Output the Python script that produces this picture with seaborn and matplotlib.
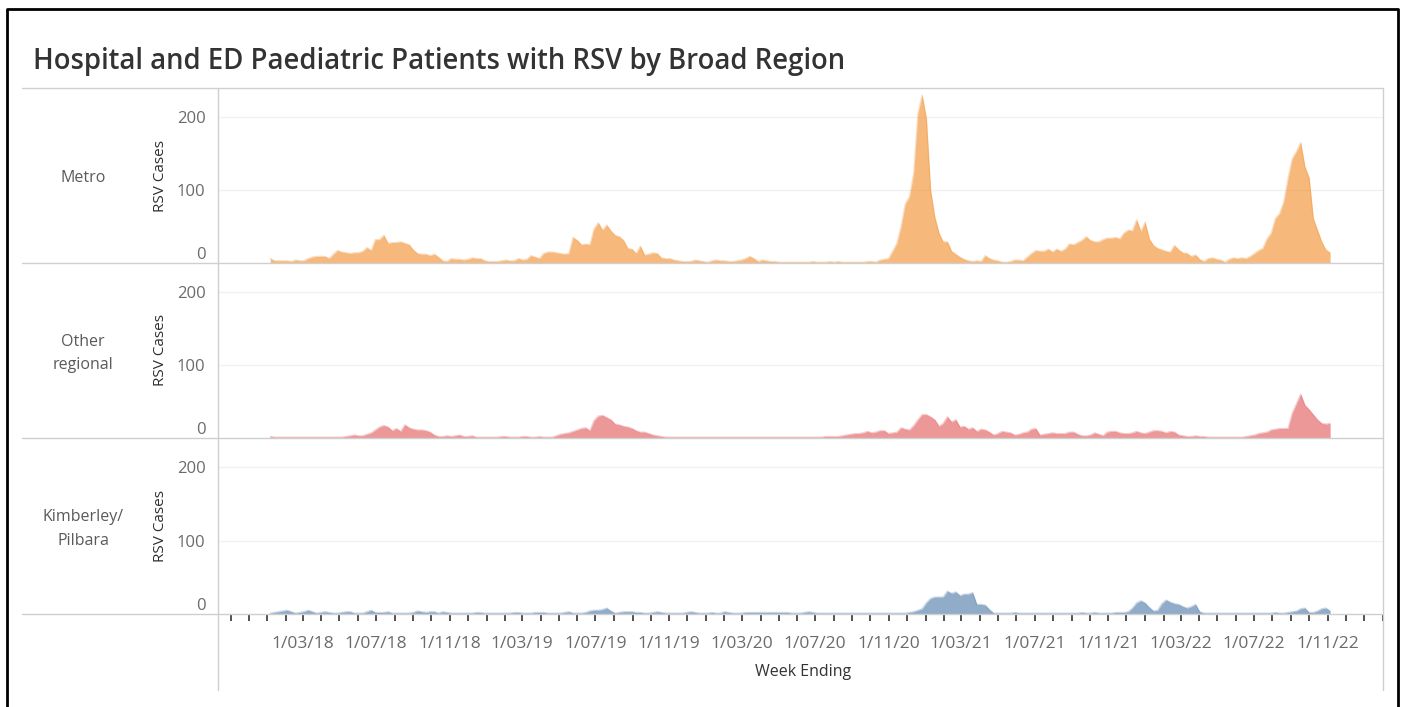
import numpy as np
import pandas as pd
import matplotlib
matplotlib.use("Agg")
import matplotlib.pyplot as plt
import matplotlib.dates as mdates
from matplotlib.lines import Line2D
import seaborn as sns

# weekly RSV cases, week ending Saturday, first week 6 Jan 2018
first_week = "2018-01-06"

metro = [
    6, 3, 3, 3, 3, 2, 4, 3, 3, 6, 8, 9, 9, 9, 6, 12, 17, 15, 14, 13,
    14, 14, 16, 21, 17, 32, 32, 38, 27, 28, 28, 29, 27, 25, 18, 13, 12, 12, 10, 12,
    8, 3, 2, 6, 5, 5, 4, 5, 7, 6, 6, 3, 2, 2, 2, 3, 4, 3, 3, 6,
    4, 5, 10, 8, 6, 13, 15, 15, 14, 13, 12, 13, 35, 31, 25, 26, 25, 47, 55, 45,
    52, 44, 38, 36, 31, 20, 19, 13, 23, 11, 12, 14, 13, 7, 6, 6, 4, 3, 2, 2,
    2, 4, 3, 2, 1, 3, 4, 3, 3, 2, 2, 3, 4, 6, 9, 6, 2, 4, 3, 2,
    2, 1, 1, 1, 1, 1, 1, 1, 1, 2, 1, 1, 1, 2, 1, 2, 1, 1, 1, 1,
    1, 1, 2, 2, 1, 4, 5, 6, 16, 27, 50, 81, 91, 123, 205, 230, 198, 100, 63, 41,
    29, 29, 16, 12, 8, 5, 3, 2, 3, 2, 10, 6, 4, 3, 1, 1, 2, 4, 4, 3,
    8, 13, 17, 16, 16, 19, 15, 19, 16, 19, 26, 25, 28, 31, 36, 31, 29, 29, 32, 34,
    34, 35, 33, 41, 45, 44, 59, 43, 56, 33, 24, 20, 18, 16, 15, 24, 18, 14, 13, 9,
    11, 5, 2, 6, 7, 5, 4, 1, 5, 7, 6, 7, 6, 9, 13, 17, 20, 33, 41, 61,
    68, 84, 116, 143, 153, 165, 132, 117, 61, 45, 29, 18, 14,
]

other_regional = [
    2, 1, 1, 1, 1, 1, 1, 1, 1, 1, 1, 1, 1, 1, 1, 1, 1, 1, 2, 3,
    4, 3, 3, 5, 7, 11, 15, 17, 15, 10, 13, 9, 18, 14, 12, 11, 11, 10, 8, 4,
    2, 2, 3, 2, 3, 4, 2, 2, 3, 1, 1, 1, 1, 1, 1, 2, 2, 1, 1, 1,
    2, 2, 1, 1, 2, 1, 1, 1, 3, 5, 6, 7, 9, 11, 13, 14, 10, 24, 30, 31,
    28, 25, 19, 18, 16, 15, 13, 10, 8, 8, 6, 4, 3, 2, 1, 1, 1, 1, 1, 1,
    1, 1, 1, 1, 1, 1, 1, 1, 1, 1, 1, 1, 1, 1, 1, 1, 1, 1, 1, 1,
    1, 1, 1, 1, 1, 1, 1, 1, 1, 1, 1, 1, 2, 2, 2, 2, 3, 4, 5, 6,
    6, 7, 9, 7, 8, 10, 10, 6, 7, 8, 14, 12, 11, 17, 25, 32, 32, 29, 25, 16,
    20, 29, 22, 25, 15, 16, 12, 14, 9, 12, 11, 8, 4, 6, 9, 8, 7, 4, 5, 7,
    8, 12, 13, 4, 5, 6, 7, 6, 6, 6, 8, 8, 5, 3, 3, 4, 7, 5, 3, 8,
    9, 9, 7, 6, 6, 7, 9, 7, 6, 8, 10, 10, 9, 7, 9, 8, 4, 3, 2, 2,
    3, 2, 2, 1, 1, 1, 1, 1, 1, 1, 1, 1, 2, 3, 4, 6, 7, 8, 11, 12,
    13, 13, 13, 34, 47, 60, 45, 39, 32, 25, 20, 19, 20,
]

kimberley_pilbara = [
    1, 2, 3, 4, 5, 3, 1, 2, 3, 5, 3, 1, 2, 3, 2, 1, 1, 2, 3, 3,
    1, 1, 1, 3, 5, 2, 2, 2, 3, 1, 1, 1, 1, 1, 2, 4, 3, 2, 3, 3,
    1, 3, 2, 1, 1, 1, 1, 1, 1, 2, 2, 1, 1, 1, 1, 1, 1, 1, 2, 2,
    1, 1, 1, 2, 2, 2, 1, 1, 1, 1, 2, 3, 1, 1, 1, 2, 4, 5, 5, 6,
    8, 4, 1, 2, 3, 3, 3, 2, 2, 1, 1, 2, 3, 2, 1, 1, 1, 1, 1, 2,
    3, 2, 1, 1, 1, 2, 1, 1, 3, 2, 1, 1, 1, 2, 2, 2, 2, 2, 2, 2,
    2, 2, 2, 2, 1, 1, 1, 2, 3, 2, 1, 1, 1, 1, 1, 1, 1, 1, 1, 1,
    1, 1, 1, 1, 1, 1, 1, 1, 1, 1, 1, 1, 2, 3, 5, 7, 15, 21, 23, 23,
    23, 31, 28, 30, 25, 27, 27, 29, 13, 13, 12, 6, 1, 1, 1, 1, 1, 2, 1, 1,
    1, 1, 1, 1, 1, 1, 1, 1, 1, 1, 1, 1, 1, 2, 1, 1, 2, 1, 1, 1,
    1, 2, 2, 2, 3, 8, 15, 18, 15, 9, 4, 5, 14, 19, 16, 14, 13, 10, 8, 10,
    13, 3, 1, 1, 1, 1, 1, 1, 1, 1, 1, 1, 1, 1, 1, 1, 1, 1, 1, 2,
    1, 1, 2, 3, 4, 7, 8, 2, 2, 4, 7, 8, 4,
]

region_labels = ["Metro", "Other\nregional", "Kimberley/\nPilbara"]
region_colors = ["#F28E2B", "#E15759", "#4E79A7"]
y_ticks = [0, 100, 200]
x_tick_dates = pd.date_range("2018-03-01", "2022-11-01", freq="4MS")

weeks = pd.date_range(first_week, periods=len(metro), freq="7D")
df = pd.concat([
    pd.DataFrame({"week": weeks, "cases": vals, "region": name})
    for name, vals in zip(region_labels, [metro, other_regional, kimberley_pilbara])
])

sns.set_theme(style="white")
plt.rcParams["font.family"] = ["Open Sans", "DejaVu Sans"]

W, H = 1406, 707
fig = plt.figure(figsize=(W / 100, H / 100), dpi=100)


def fx(px):
    return px / W


def fy(py):
    return 1 - py / H


left, right = 218, 1383
rows = [(88, 263), (263, 438), (438, 614)]
grey_line = "#cfcfcf"

axes = []
for (top, bot), name, col in zip(rows, region_labels, region_colors):
    ax = fig.add_axes([fx(left), fy(bot), fx(right) - fx(left), (bot - top) / H])
    sub = df[df["region"] == name]
    ax.fill_between(sub["week"], sub["cases"], color=col, alpha=0.62, lw=0)
    sns.lineplot(data=sub, x="week", y="cases", color=col, alpha=0.3, lw=1, ax=ax)
    ax.set_ylim(0, 240)
    ax.set_xlim(pd.Timestamp("2017-10-11"), pd.Timestamp("2023-02-01"))
    for v in [100, 200]:
        ax.axhline(v, color="#f0f0f0", lw=1, zorder=0)
    for s in ax.spines.values():
        s.set_visible(False)
    ax.set_yticks(y_ticks)
    ax.tick_params(axis="y", length=0, pad=9, labelsize=12, labelcolor="#6b6b6b")
    ax.get_yticklabels()[0].set_va("bottom")
    ax.set_xlabel("")
    ax.set_ylabel("")
    ax.patch.set_alpha(0)
    fig.text(fx(160), fy((top + bot) / 2), "RSV Cases", rotation=90,
             ha="center", va="center", fontsize=11, color="#2f2f2f")
    fig.text(fx(83), fy((top + bot) / 2 + 3), name, ha="center", va="center",
             fontsize=11.5, color="#5a5a5a", linespacing=1.6)
    axes.append(ax)

for ax in axes[:-1]:
    ax.tick_params(axis="x", which="both", length=0, labelbottom=False)

bottom_ax = axes[-1]
bottom_ax.set_xticks(x_tick_dates)
bottom_ax.xaxis.set_minor_locator(mdates.MonthLocator())
bottom_ax.xaxis.set_major_formatter(mdates.DateFormatter("1/%m/%y"))
bottom_ax.tick_params(axis="x", which="both", direction="out", length=5, width=1.2,
                      color="#333333", bottom=True)
bottom_ax.tick_params(axis="x", which="major", pad=11, labelsize=12.5, labelcolor="#6b6b6b")

# pane borders
for py in [88, 263, 438, 614]:
    fig.add_artist(Line2D([fx(22), fx(right)], [fy(py), fy(py)], color=grey_line, lw=1))
for px in [left, right]:
    fig.add_artist(Line2D([fx(px), fx(px)], [fy(88), fy(690)], color=grey_line, lw=1))

# outer frame
fig.add_artist(Line2D([fx(7), fx(7), fx(1398), fx(1398)], [fy(710), fy(9), fy(9), fy(710)],
                      color="black", lw=2))

fig.text(fx(33), fy(61), "Hospital and ED Paediatric Patients with RSV by Broad Region",
         ha="left", va="center", fontsize=19.8, fontweight="semibold", color="#333333")
fig.text(fx(803), fy(672), "Week Ending", ha="center", va="center",
         fontsize=11.5, fontweight="medium", color="#333333")

fig.savefig("out.png", dpi=100)
